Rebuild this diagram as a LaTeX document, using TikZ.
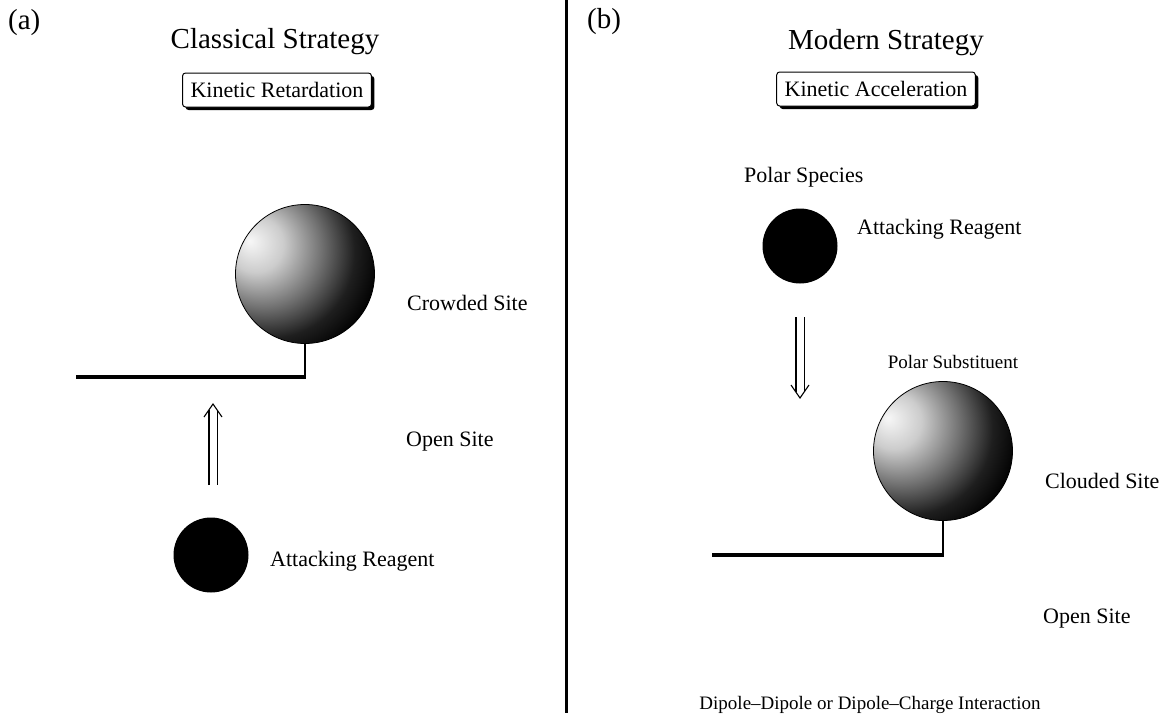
\documentclass[tikz,border=0pt]{standalone}
\usepackage{fontspec}
\setmainfont{Liberation Serif}
\usetikzlibrary{shadows,calc}
\pgfdeclareradialshading{ballshade}{\pgfpoint{-20bp}{12bp}}{color(0bp)=(black!3); color(10bp)=(black!20); color(21bp)=(black!55); color(31bp)=(black!88); color(39bp)=(black); color(90bp)=(black)}
\begin{document}
\begin{tikzpicture}[x=1pt,y=-1pt,
  lbl/.style={font=\fontsize{22}{26}\selectfont, inner sep=0pt},
  head/.style={font=\fontsize{29}{33}\selectfont, inner sep=0pt},
  small/.style={font=\fontsize{19}{22}\selectfont, inner sep=0pt},
  tag/.style={draw, line width=1pt, rounded corners=3pt, fill=white, font=\fontsize{22}{26}\selectfont, inner xsep=8pt, minimum height=34pt, drop shadow={shadow xshift=3pt, shadow yshift=-3pt, opacity=1, fill=black}},
  bigball/.style={circle, minimum size=139pt, inner sep=0pt, draw, line width=0.8pt, shading=ballshade},
  smallball/.style={circle, minimum size=75pt, inner sep=0pt, fill=black},
  baseline/.style={line width=3.5pt},
  stem/.style={line width=1.3pt},
  dbl/.style={line width=1.1pt, double, double distance=7pt},
  chev/.style={line width=1.1pt}]
\useasboundingbox[fill=white] (0,0) rectangle (1163,715);
% divider
\coordinate (dt) at (566,0);
\coordinate (db) at (566,713);
\draw[line width=3pt] (dt) -- (db);

% ---------- panel (a)
\node[head, anchor=base west] (pa) at (8,29) {(a)};
\node[head, anchor=base] (ha) at (275,48) {Classical Strategy};
\node[tag] (ka) at (277,90) {Kinetic Retardation};
\node[bigball] (ball1) at (305,274) {};
\coordinate (c1) at (305,377);
\coordinate (l1) at (76,377);
\draw[stem] (ball1.south) -- (c1);
\draw[baseline] (l1) -- ($(c1)+(0.6,0)$);
\node[lbl, anchor=base west] (crowd) at (407,310) {Crowded Site};
\node[lbl, anchor=base west] (opena) at (406,446) {Open Site};
\coordinate (u0) at (213,485);
\coordinate (u1) at (213,404);
\draw[dbl] (u0) -- ($(u1)+(0,6)$);
\draw[chev] ($(u1)+(-9,13)$) -- (u1) -- ($(u1)+(9,13)$);
\node[smallball] (ra) at (211,555) {};
\node[lbl, anchor=base west] (atta) at (270,566) {Attacking Reagent};

% ---------- panel (b)
\node[head, anchor=base west] (pb) at (587,28) {(b)};
\node[head, anchor=base] (hb) at (886,49) {Modern Strategy};
\node[tag] (kb) at (876,89) {Kinetic Acceleration};
\node[lbl, anchor=base west] (polsp) at (744,182) {Polar Species};
\node[smallball] (rb) at (800,246) {};
\node[lbl, anchor=base west] (attb) at (857,234) {Attacking Reagent};
\coordinate (d0) at (800,317);
\coordinate (d1) at (800,398);
\draw[dbl] (d0) -- ($(d1)+(0,-6)$);
\draw[chev] ($(d1)+(-9,-13)$) -- (d1) -- ($(d1)+(9,-13)$);
\node[small, anchor=base] (polsub) at (953,368) {Polar Substituent};
\node[bigball] (ball2) at (943,451) {};
\coordinate (c2) at (943,555);
\coordinate (l2) at (712,555);
\draw[stem] (ball2.south) -- (c2);
\draw[baseline] (l2) -- ($(c2)+(0.6,0)$);
\node[lbl, anchor=base west] (cloud) at (1045,488) {Clouded Site};
\node[lbl, anchor=base west] (openb) at (1043,623) {Open Site};
\node[small, anchor=base] (dip) at (870,709) {Dipole--Dipole or Dipole--Charge Interaction};
\end{tikzpicture}
\end{document}
